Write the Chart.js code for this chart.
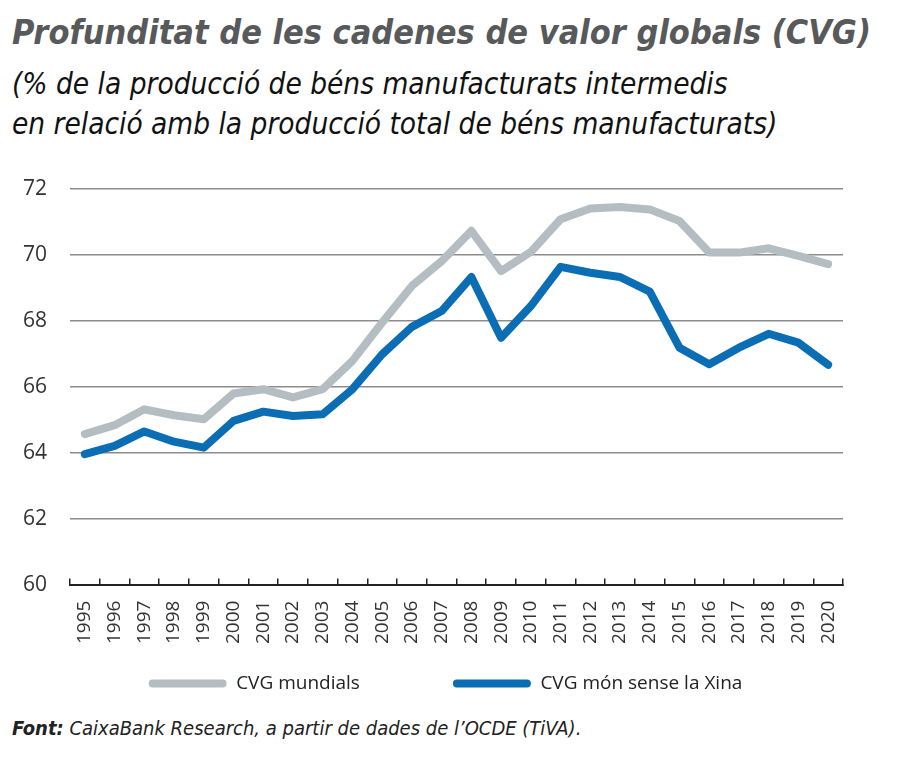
<!DOCTYPE html>
<html>
<head>
<meta charset="utf-8">
<script src="https://cdn.jsdelivr.net/npm/chart.js@4"></script>
<style>
  body { margin: 0; width: 900px; height: 761px; background: #fff; position: relative; overflow: hidden; }
  .title { position: absolute; left: 12px; top: 12px; font-family: "DejaVu Sans Condensed", "DejaVu Sans", sans-serif; font-stretch: condensed; font-weight: bold; font-style: italic; font-size: 34px; color: #58595b; white-space: nowrap; }
  .sub { position: absolute; left: 12px; top: 64px; font-family: "DejaVu Sans Condensed", sans-serif; font-stretch: condensed; font-style: italic; font-size: 29.5px; line-height: 40px; color: #111; white-space: nowrap; }
  .note { position: absolute; left: 12px; top: 716px; font-family: "DejaVu Sans Condensed", sans-serif; font-stretch: condensed; font-style: italic; font-size: 20px; color: #222; white-space: nowrap; }
  .note b { font-weight: bold; }
  #wrap { position: absolute; left: 0; top: 153px; width: 900px; height: 635px; }
</style>
</head>
<body>
<div class="title">Profunditat de les cadenes de valor globals (CVG)</div>
<div class="sub">(% de la producció de béns manufacturats intermedis<br>en relació amb la producció total de béns manufacturats)</div>
<div class="note"><b>Font:</b> CaixaBank Research, a partir de dades de l’OCDE (TiVA).</div>
<div id="wrap"><canvas id="cvg"></canvas></div>
<script>
var years = ['1995','1996','1997','1998','1999','2000','2001','2002','2003','2004','2005','2006','2007',
             '2008','2009','2010','2011','2012','2013','2014','2015','2016','2017','2018','2019','2020']
var cvgMundials = [64.56, 64.83, 65.31, 65.13, 65.01, 65.79, 65.92, 65.67, 65.92, 66.78, 67.94, 69.05, 69.80,
                   70.72, 69.50, 70.08, 71.07, 71.40, 71.44, 71.37, 71.02, 70.06, 70.06, 70.19, 69.96, 69.71]
var cvgSenseXina = [63.95, 64.20, 64.64, 64.33, 64.15, 64.96, 65.24, 65.11, 65.16, 65.92, 66.98, 67.81, 68.29,
                    69.32, 67.48, 68.44, 69.63, 69.45, 69.32, 68.88, 67.18, 66.68, 67.18, 67.60, 67.33, 66.66]
var yTicks = [60, 62, 64, 66, 68, 70, 72]

var grayCol = '#b4bec2'
var blueCol = '#0b6eb4'
var fontFam = "'Open Sans', 'Noto Sans', sans-serif"

// legend keeps a wide gap between the two items, then is pulled up under the axis labels
const legendLift = {
    id: 'legendLift',
    afterLayout(chart) {
        var lg = chart.legend
        lg.top -= 85
        lg.bottom -= 85
        lg.left += 24
        lg.right += 24
    }
}

const data = {
    labels: years,
    datasets: [{
        label: 'CVG mundials',
        data: cvgMundials,
        borderColor: grayCol,
        backgroundColor: grayCol
    }, {
        label: 'CVG món sense la Xina',
        data: cvgSenseXina,
        borderColor: blueCol,
        backgroundColor: blueCol
    }]
}

const config = {
    type: 'line',
    data: data,
    plugins: [legendLift],
    options: {
        responsive: true,
        maintainAspectRatio: false,
        animation: false,
        layout: { padding: { top: 0, right: 57, left: 0, bottom: 0 } },
        elements: {
            line: { borderWidth: 8, tension: 0, borderCapStyle: 'round', borderJoinStyle: 'round' },
            point: { radius: 0 }
        },
        scales: {
            x: {
                offset: true,
                grid: { display: true, drawOnChartArea: false, offset: true, drawTicks: true, tickLength: -6, color: '#222', lineWidth: 1.5 },
                border: { display: true, color: '#222', width: 2 },
                ticks: { minRotation: 90, maxRotation: 90, padding: 22, color: '#333', font: { family: fontFam, size: 19 } }
            },
            y: {
                min: 60, max: 72,
                afterBuildTicks: s => { s.ticks = yTicks.map(v => ({ value: v })) },
                afterFit: s => { s.width = 70 },
                grid: { color: '#8c8c8c', lineWidth: 1.5, drawTicks: false },
                border: { display: false },
                ticks: { padding: 23, color: '#333', font: { family: fontFam, size: 21 } }
            }
        },
        plugins: {
            tooltip: { enabled: false },
            legend: {
                position: 'bottom',
                labels: {
                    boxWidth: 78, boxHeight: 8, padding: 93,
                    useBorderRadius: true, borderRadius: 4,
                    color: '#222', font: { family: fontFam, size: 19 },
                    generateLabels: function (chart) {
                        var items = Chart.defaults.plugins.legend.labels.generateLabels(chart)
                        items.forEach(it => { it.lineWidth = 0 })
                        return items
                    }
                }
            }
        }
    }
}

const myChart = new Chart(document.getElementById('cvg'), config)
</script>
</body>
</html>
